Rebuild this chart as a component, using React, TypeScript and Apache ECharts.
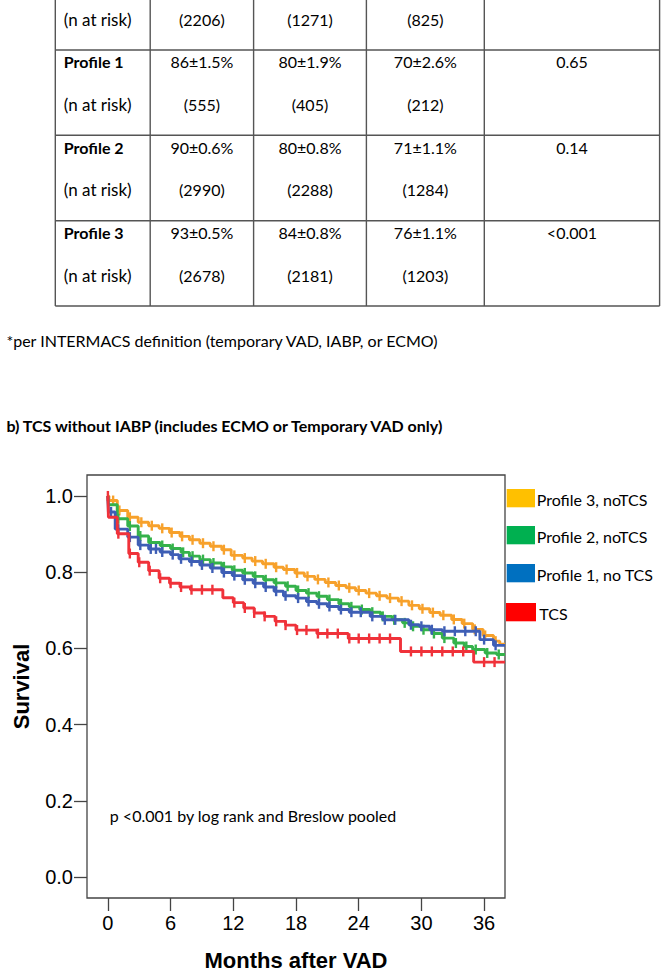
import React, { useEffect, useRef } from "react";
import * as echarts from "echarts";

// ---------- axis ticks ----------
const monthTicks = [0, 6, 12, 18, 24, 30, 36];
const survivalTicks = [0, 0.2, 0.4, 0.6, 0.8, 1.0];

// ---------- Kaplan-Meier curves (months, survival) ----------
const p3Times = [0, 0.1, 0.9, 1.9, 2.9, 3.9, 4.9, 5.9, 6.9, 7.8, 8.8, 9.8, 10.9, 11.8, 12.9, 13.8, 14.8, 15.9, 16.8, 17.9, 18.8, 19.8, 20.8, 21.8, 22.8, 23.7, 24.7, 25.7, 26.7, 27.8, 28.8, 29.8, 30.8, 31.8, 32.9, 33.9, 34.9, 35.9, 36.9, 37.5, 38];
const p3Surv = [1.0, 0.988, 0.962, 0.944, 0.931, 0.922, 0.915, 0.904, 0.894, 0.885, 0.876, 0.868, 0.859, 0.844, 0.837, 0.829, 0.822, 0.813, 0.807, 0.798, 0.789, 0.781, 0.773, 0.765, 0.759, 0.752, 0.745, 0.738, 0.732, 0.724, 0.713, 0.704, 0.694, 0.687, 0.676, 0.665, 0.65, 0.634, 0.619, 0.611, 0.611];
const p3Censor = [0.5, 1.1, 2.1, 3.2, 4.2, 5.2, 6.1, 7.1, 8.1, 9.1, 10.1, 11.1, 12.1, 13.1, 14.1, 15.1, 16.1, 17.1, 18.1, 19.1, 20.1, 21.1, 22.1, 23.1, 24.0, 25.0, 26.0, 27.0, 28.1, 29.1, 30.1, 31.1, 32.1, 33.1, 34.1, 35.1, 36.1, 37.1];

const p2Times = [0, 0.05, 0.9, 1.9, 2.9, 3.9, 5.0, 6.0, 7.0, 7.8, 8.8, 9.8, 10.9, 11.9, 12.9, 13.9, 14.9, 15.9, 17.0, 18.0, 19.0, 20.0, 21.0, 22.1, 23.1, 24.1, 25.1, 26.1, 27.2, 28.2, 29.0, 30.0, 31.0, 32.0, 33.1, 34.1, 34.9, 36.1, 37.2, 38];
const p2Surv = [1.0, 0.977, 0.94, 0.921, 0.895, 0.878, 0.87, 0.862, 0.852, 0.842, 0.833, 0.824, 0.814, 0.805, 0.798, 0.789, 0.78, 0.772, 0.763, 0.752, 0.745, 0.737, 0.728, 0.717, 0.709, 0.702, 0.695, 0.684, 0.675, 0.667, 0.658, 0.649, 0.639, 0.627, 0.614, 0.605, 0.597, 0.588, 0.584, 0.584];
const p2Censor = [1.0, 2.1, 3.1, 4.1, 5.2, 6.2, 7.2, 8.1, 9.1, 10.1, 11.1, 12.1, 13.1, 14.1, 15.1, 16.1, 17.2, 18.2, 19.2, 20.2, 21.2, 22.3, 23.3, 24.3, 25.3, 26.3, 27.4, 28.4, 29.2, 30.2, 31.2, 32.2, 33.3, 34.3, 35.2, 36.3, 37.4];

const p1Times = [0, 0.05, 0.7, 1.9, 2.9, 3.9, 5.0, 6.0, 6.8, 7.8, 8.8, 9.8, 10.9, 11.9, 12.9, 13.9, 14.9, 15.9, 16.8, 18.0, 19.0, 20.0, 21.0, 22.1, 23.1, 25.1, 26.3, 28.8, 29.8, 30.8, 32.0, 35.6, 36.9, 38];
const p1Surv = [1.0, 0.958, 0.913, 0.892, 0.871, 0.861, 0.853, 0.846, 0.835, 0.828, 0.819, 0.811, 0.799, 0.791, 0.78, 0.771, 0.761, 0.75, 0.738, 0.732, 0.723, 0.717, 0.71, 0.702, 0.695, 0.684, 0.675, 0.662, 0.658, 0.649, 0.645, 0.623, 0.608, 0.608];
const p1Censor = [0.3, 1.0, 2.1, 3.1, 4.1, 4.6, 5.2, 6.2, 7.0, 8.0, 9.0, 10.0, 11.1, 12.1, 13.1, 14.1, 15.1, 16.1, 17.0, 18.2, 19.2, 20.2, 21.2, 22.3, 23.3, 24.2, 25.3, 26.5, 27.5, 29.0, 30.0, 31.0, 32.2, 33.2, 34.2, 35.2, 36.0, 37.1];

const tcsTimes = [0, 0.05, 0.9, 2.0, 2.9, 3.9, 4.9, 5.9, 6.9, 7.9, 11.0, 12.0, 13.0, 14.0, 15.0, 16.0, 17.0, 18.0, 20.0, 23.0, 28.0, 35.0, 38];
const tcsSurv = [1.0, 0.944, 0.901, 0.849, 0.826, 0.804, 0.784, 0.771, 0.761, 0.754, 0.733, 0.72, 0.706, 0.693, 0.684, 0.671, 0.661, 0.648, 0.639, 0.626, 0.592, 0.564, 0.564];
const tcsCensor = [0, 1.0, 2.1, 3.0, 4.0, 5.0, 6.0, 7.0, 8.0, 9.0, 10.0, 12.1, 13.1, 14.0, 15.0, 16.1, 17.0, 18.1, 19.0, 20.1, 21.0, 22.0, 23.1, 24.0, 25.0, 26.0, 27.0, 29.0, 30.0, 31.0, 32.0, 33.0, 34.0, 36.0, 37.0];

const legendNames = ["Profile 3, noTCS", "Profile 2, noTCS", "Profile 1, no TCS", "TCS"];

// ---------- table ----------
const tableRowLabels = ["", "Profile 1", "Profile 2", "Profile 3"];
const tableSurvival = [
  ["", "", ""],
  ["86±1.5%", "80±1.9%", "70±2.6%"],
  ["90±0.6%", "80±0.8%", "71±1.1%"],
  ["93±0.5%", "84±0.8%", "76±1.1%"],
];
const tableAtRisk = [
  ["(2206)", "(1271)", "(825)"],
  ["(555)", "(405)", "(212)"],
  ["(2990)", "(2288)", "(1284)"],
  ["(2678)", "(2181)", "(1203)"],
];
const tablePValues = ["", "0.65", "0.14", "<0.001"];
const atRiskLabel = "(n at risk)";

const footnote = "*per INTERMACS definition (temporary VAD, IABP, or ECMO)";
const heading = "b) TCS without IABP (includes ECMO or Temporary VAD only)";
const pText = "p <0.001 by log rank and Breslow pooled";

// ---------- styling ----------
const lineColors = ["#F7A12B", "#35B24B", "#3E5EB5", "#F0323A"];
const legendColors = ["#FFC000", "#00B050", "#0070C0", "#FF0000"];
const SANS = "'Liberation Sans', Arial, sans-serif";
const CAL = "Lato, 'Open Sans', sans-serif";

function stepAt(times: number[], surv: number[], t: number): number {
  let v = surv[0];
  for (let i = 0; i < times.length; i++) {
    if (times[i] <= t) v = surv[i];
  }
  return v;
}

export default function App() {
  const ref = useRef<HTMLDivElement>(null);

  useEffect(() => {
    if (!ref.current) return;
    const chart = echarts.init(ref.current, undefined, { renderer: "svg" });

    const curves = [
      { times: p3Times, surv: p3Surv, censor: p3Censor },
      { times: p2Times, surv: p2Surv, censor: p2Censor },
      { times: p1Times, surv: p1Surv, censor: p1Censor },
      { times: tcsTimes, surv: tcsSurv, censor: tcsCensor },
    ];

    const series: any[] = [];
    curves.forEach((c, k) => {
      series.push({
        type: "line",
        name: legendNames[k],
        step: "end",
        showSymbol: false,
        symbol: "none",
        data: c.times.map((t, i) => [t, c.surv[i]]),
        lineStyle: { color: lineColors[k], width: 2.9 },
        itemStyle: { color: lineColors[k] },
        z: 2 + k,
        silent: true,
      });
      series.push({
        type: "scatter",
        name: legendNames[k] + " censored",
        symbol: "rect",
        symbolSize: [2.4, 10],
        data: c.censor.map((t) => [t, stepAt(c.times, c.surv, t)]),
        itemStyle: { color: lineColors[k], opacity: 1 },
        z: 2 + k,
        silent: true,
      });
    });

    // ----- graphic: table -----
    const g: any[] = [];
    const colX = [55.3, 150.2, 253.6, 366.4, 484.3, 659.6];
    const rowY = [-35.3, 50, 135.3, 220.7, 306];
    const border = "#555";
    colX.forEach((x) => {
      g.push({ type: "line", shape: { x1: x, y1: 0, x2: x, y2: 306 }, style: { stroke: border, lineWidth: 1.4 } });
    });
    rowY.slice(1).forEach((y) => {
      g.push({ type: "line", shape: { x1: colX[0], y1: y, x2: colX[5], y2: y }, style: { stroke: border, lineWidth: 1.4 } });
    });
    const txt = (text: string, x: number, y: number, font: string, align: string = "left", fill = "#000") => ({
      type: "text",
      x,
      y,
      style: { text, font, fill, align, verticalAlign: "middle", textAlign: align, textVerticalAlign: "middle" },
    });
    const centers = [0, 1, 2, 3].map((i) => (colX[i + 1] + colX[i + 2]) / 2);
    for (let r = 0; r < 4; r++) {
      const top = rowY[r];
      const y1 = top + 11.7;
      const y2 = top + 54.3;
      if (tableRowLabels[r]) g.push(txt(tableRowLabels[r], 63.8, y1, "bold 16px " + CAL));
      g.push(txt(atRiskLabel, 63.8, y2, "17px " + CAL));
      for (let c = 0; c < 3; c++) {
        if (tableSurvival[r][c]) g.push(txt(tableSurvival[r][c], centers[c], y1, "16px " + CAL, "center"));
        g.push(txt(tableAtRisk[r][c], centers[c], y2, "16px " + CAL, "center"));
      }
      if (tablePValues[r]) g.push(txt(tablePValues[r], centers[3], y1, "16px " + CAL, "center"));
    }
    g.push(txt(footnote, 6.4, 340, "16px " + CAL));
    g.push(txt(heading, 6.4, 425, "bold 16px " + CAL));
    g.push(txt(pText, 109.8, 815, "16px " + CAL));

    // ----- graphic: legend -----
    const legY = [499, 536, 574, 613];
    legendNames.forEach((name, k) => {
      const isLast = k === 3;
      g.push({
        type: "rect",
        shape: { x: isLast ? 506 : 506.7, y: legY[k] - 10, width: isLast ? 30 : 28.3, height: 18.3 },
        style: { fill: legendColors[k] },
      });
      g.push(txt(name, isLast ? 539.3 : 536.7, legY[k], "16px " + CAL));
    });

    chart.setOption({
      animation: false,
      backgroundColor: "#fff",
      grid: {
        left: 87,
        top: 475,
        width: 418,
        height: 423,
        show: true,
        borderColor: "#444",
        borderWidth: 1.3,
        backgroundColor: "transparent",
        containLabel: false,
        outerBoundsMode: "none",
      },
      xAxis: {
        type: "value",
        min: -2,
        max: 38,
        splitLine: { show: false },
        axisLine: { show: false, onZero: false },
        axisTick: { show: true, inside: false, length: 13, customValues: monthTicks, lineStyle: { color: "#444", width: 1.3 } },
        axisLabel: {
          customValues: monthTicks,
          fontSize: 20,
          fontFamily: SANS,
          color: "#000",
          margin: 15,
        },
        name: "Months after VAD",
        nameLocation: "middle",
        nameGap: 51,
        nameTextStyle: { fontSize: 22, fontWeight: "bold", fontFamily: SANS, color: "#000" },
      },
      yAxis: {
        type: "value",
        min: -0.055,
        max: 1.055,
        splitLine: { show: false },
        axisLine: { show: false, onZero: false },
        axisTick: { show: true, inside: false, length: 13, customValues: survivalTicks, lineStyle: { color: "#444", width: 1.3 } },
        axisLabel: {
          customValues: survivalTicks,
          formatter: (v: number) => v.toFixed(1),
          fontSize: 20,
          fontFamily: SANS,
          color: "#000",
          margin: 14,
        },
        name: "Survival",
        nameLocation: "middle",
        nameGap: 55,
        nameTextStyle: { fontSize: 22, fontWeight: "bold", fontFamily: SANS, color: "#000" },
      },
      graphic: { elements: g },
      series,
    });

    return () => chart.dispose();
  }, []);

  return (
    <div
      ref={ref}
      style={{ position: "absolute", left: 0, top: 0, width: 667, height: 974, background: "#fff" }}
    />
  );
}
